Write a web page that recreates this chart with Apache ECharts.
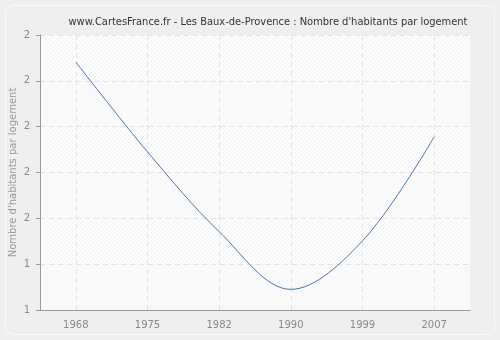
<!DOCTYPE html>
<html><head><meta charset="utf-8">
<script src="https://cdn.jsdelivr.net/npm/echarts@6/dist/echarts.min.js"></script>
<style>html,body{margin:0;padding:0;background:#efefef}#c{width:500px;height:340px}</style>
</head><body><div id="c"></div>
<script>
var categories = ['1968','1975','1982','1990','1999','2007'];
var values = [1.841, 1.645, 1.471, 1.345, 1.451, 1.678];
var yTickValues = [1.3, 1.4, 1.5, 1.6, 1.7, 1.8, 1.9];
var yTickLabels = ['1','1','2','2','2','2','2'];
var titleText = "www.CartesFrance.fr - Les Baux-de-Provence : Nombre d'habitants par logement";
var yAxisTitle = "Nombre d'habitants par logement";

function makeHatch(bg, line) {
  var c = document.createElement('canvas');
  c.width = 4; c.height = 4;
  var g = c.getContext('2d');
  g.fillStyle = bg; g.fillRect(0, 0, 4, 4);
  g.strokeStyle = line; g.lineWidth = 1;
  g.beginPath();
  g.moveTo(0, 4); g.lineTo(4, 0);
  g.moveTo(-2, 2); g.lineTo(2, -2);
  g.moveTo(2, 6); g.lineTo(6, 2);
  g.stroke();
  return {image: c, repeat: 'repeat'};
}

var chart = echarts.init(document.getElementById('c'), null, {renderer: 'canvas'});
chart.setOption({
  backgroundColor: '#efefef',
  animation: false,
  graphic: [{
    type: 'rect', z: -10,
    shape: {x: 5.5, y: 5.5, width: 489, height: 329, r: 8},
    style: {fill: '#efefef', stroke: '#fbfbfb', lineWidth: 1}
  }],
  title: {
    text: titleText, left: 263, top: 12, textAlign: 'center',
    textStyle: {fontFamily: 'DejaVu Sans Condensed, DejaVu Sans', fontSize: 11, fontWeight: 'normal', color: '#333'}
  },
  grid: {left: 40, right: 30, top: 35, bottom: 30, containLabel: false, outerBoundsMode: 'none'},
  xAxis: {
    type: 'category', data: categories, boundaryGap: true,
    axisLine: {lineStyle: {color: '#999', width: 1}},
    axisTick: {alignWithLabel: true, length: 4, lineStyle: {color: '#999'}},
    axisLabel: {color: '#888', fontFamily: 'DejaVu Sans', fontSize: 10, margin: 10},
    splitLine: {show: true, alignWithLabel: true, lineStyle: {color: '#e2e2e2', type: [5, 4]}}
  },
  yAxis: {
    type: 'value', min: 1.3, max: 1.9, interval: 0.1,
    name: yAxisTitle, nameLocation: 'middle', nameGap: 22, nameMoveOverlap: false,
    nameTextStyle: {color: '#999', fontFamily: 'DejaVu Sans', fontSize: 10},
    axisLine: {show: true, lineStyle: {color: '#999', width: 1}},
    axisTick: {show: true, length: 4, lineStyle: {color: '#999'}},
    axisLabel: {color: '#888', fontFamily: 'DejaVu Sans', fontSize: 10, margin: 10,
      formatter: function (v) {
        var i = Math.round((v - yTickValues[0]) / 0.1);
        return yTickLabels[i] !== undefined ? yTickLabels[i] : '';
      }},
    splitLine: {show: true, lineStyle: {color: '#e2e2e2', type: [5, 4]}},
    splitArea: {show: true, areaStyle: {color: [makeHatch('#fbfbfb', '#f3f3f3'), makeHatch('#fdfdfd', '#f1f1f1')]}}
  },
  series: [{
    type: 'line', data: values, smooth: 0.35, showSymbol: false, symbol: 'none',
    lineStyle: {color: '#4a76ae', width: 1}
  }]
});
</script></body></html>
